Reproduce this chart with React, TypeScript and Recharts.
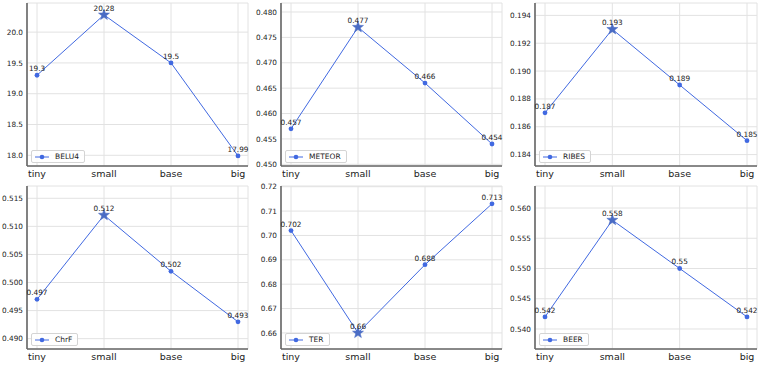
import React from "react";
import { LineChart, Line, XAxis, YAxis, CartesianGrid, LabelList, Legend } from "recharts";

const models = ["tiny", "small", "base", "big"];

const belu4 = [19.3, 20.28, 19.5, 17.99];
const meteor = [0.457, 0.477, 0.466, 0.454];
const ribes = [0.187, 0.193, 0.189, 0.185];
const chrf = [0.497, 0.512, 0.502, 0.493];
const ter = [0.702, 0.66, 0.688, 0.713];
const beer = [0.542, 0.558, 0.55, 0.542];

const belu4Ticks = [18.0, 18.5, 19.0, 19.5, 20.0];
const meteorTicks = [0.45, 0.455, 0.46, 0.465, 0.47, 0.475, 0.48];
const ribesTicks = [0.184, 0.186, 0.188, 0.19, 0.192, 0.194];
const chrfTicks = [0.49, 0.495, 0.5, 0.505, 0.51, 0.515];
const terTicks = [0.66, 0.67, 0.68, 0.69, 0.7, 0.71, 0.72];
const beerTicks = [0.54, 0.545, 0.55, 0.555, 0.56];

const FONT = "DejaVu Sans, sans-serif";
const BLUE = "#4169e1";
const STAR = "#4a6cc4";
const FRAME = "#666";

const Y_W = 40;
const M_TOP = 14;
const PLOT_H = 163;

type PanelProps = {
  name: string;
  values: number[];
  ticks: number[];
  domain: [number, number];
  decimals: number;
  lowerBetter?: boolean;
  plotLeft: number;
  plotTop: number;
  plotW: number;
};

function Star({ cx, cy }: { cx: number; cy: number }) {
  const pts: string[] = [];
  for (let i = 0; i < 10; i++) {
    const r = i % 2 === 0 ? 5.8 : 2.4;
    const a = -Math.PI / 2 + (i * Math.PI) / 5;
    pts.push(`${cx + r * Math.cos(a)},${cy + r * Math.sin(a)}`);
  }
  return <polygon points={pts.join(" ")} fill={STAR} stroke={STAR} strokeWidth={0.5} />;
}

function Panel({ name, values, ticks, domain, decimals, lowerBetter, plotLeft, plotTop, plotW }: PanelProps) {
  const data = models.map((m, i) => ({ model: m, value: values[i] }));
  const best = lowerBetter
    ? values.indexOf(Math.min(...values))
    : values.indexOf(Math.max(...values));
  const width = Y_W + plotW + 24;
  const height = M_TOP + PLOT_H + 20;

  const legendContent = () => (
    <div
      style={{
        display: "flex",
        alignItems: "center",
        border: "1px solid #d4d4d4",
        borderRadius: 2,
        background: "rgba(255,255,255,0.85)",
        padding: "0 5px 0 3px",
        height: 11,
        fontSize: 7.5,
        fontFamily: FONT,
        color: "#222",
        whiteSpace: "nowrap",
      }}
    >
      <svg width={14} height={6} style={{ overflow: "visible" }}>
        <line x1={0} y1={3} x2={14} y2={3} stroke={BLUE} strokeWidth={1} />
        <circle cx={7} cy={3} r={2.3} fill={BLUE} />
      </svg>
      <span style={{ marginLeft: 6 }}>{name}</span>
    </div>
  );

  return (
    <div style={{ position: "absolute", left: plotLeft - Y_W, top: plotTop - M_TOP }}>
      <LineChart
        width={width}
        height={height}
        data={data}
        margin={{ top: M_TOP, right: 24, bottom: 0, left: 0 }}
        style={{ fontFamily: FONT }}
      >
        <CartesianGrid stroke="#e2e2e2" strokeWidth={1} />
        <XAxis
          dataKey="model"
          type="category"
          scale="point"
          padding={{ left: 10, right: 10 }}
          height={20}
          tickSize={0}
          tickMargin={4}
          tickLine={false}
          axisLine={{ stroke: FRAME, strokeWidth: 1.6 }}
          tick={{ fontSize: 9.5, fill: "#222", fontFamily: FONT }}
          interval={0}
        />
        <XAxis
          xAxisId="top"
          orientation="top"
          dataKey="model"
          type="category"
          scale="point"
          padding={{ left: 10, right: 10 }}
          height={0}
          tick={false}
          tickLine={false}
          axisLine={{ stroke: FRAME, strokeWidth: 1.6 }}
        />
        <YAxis
          type="number"
          domain={domain}
          ticks={ticks}
          allowDataOverflow
          width={Y_W}
          tickSize={0}
          tickMargin={4}
          tickLine={false}
          axisLine={{ stroke: FRAME, strokeWidth: 1.6 }}
          tick={{ fontSize: 7.3, fill: "#222", fontFamily: FONT }}
          tickFormatter={(v: number) => v.toFixed(decimals)}
          interval={0}
        />
        <YAxis
          yAxisId="right"
          orientation="right"
          type="number"
          domain={domain}
          allowDataOverflow
          width={0}
          tick={false}
          tickLine={false}
          axisLine={{ stroke: FRAME, strokeWidth: 1.6 }}
        />
        <Legend
          layout="vertical"
          align="center"
          verticalAlign="middle"
          content={legendContent}
          wrapperStyle={{ left: Y_W + 4, top: M_TOP + PLOT_H - 3 - 13, width: "auto" }}
        />
        <Line
          type="linear"
          dataKey="value"
          name={name}
          stroke={BLUE}
          strokeWidth={1}
          isAnimationActive={false}
          dot={(p: any) =>
            p.index === best ? (
              <Star key={`s-${p.index}`} cx={p.cx} cy={p.cy} />
            ) : (
              <circle key={`c-${p.index}`} cx={p.cx} cy={p.cy} r={2.4} fill={BLUE} stroke="none" />
            )
          }
          activeDot={false}
        >
          <LabelList dataKey="value" position="top" offset={4} fontSize={7.3} fill="#222" fontFamily={FONT} />
        </Line>
      </LineChart>
    </div>
  );
}

export default function App() {
  return (
    <div
      style={{
        position: "absolute",
        left: 0,
        top: 0,
        width: 761,
        height: 365,
        background: "#fff",
        overflow: "hidden",
      }}
    >
      <Panel name="BELU4" values={belu4} ticks={belu4Ticks} domain={[17.826, 20.473]} decimals={1} plotLeft={27} plotTop={3} plotW={221} />
      <Panel name="METEOR" values={meteor} ticks={meteorTicks} domain={[0.44967, 0.48177]} decimals={3} plotLeft={281} plotTop={3} plotW={221} />
      <Panel name="RIBES" values={ribes} ticks={ribesTicks} domain={[0.18318, 0.19489]} decimals={3} plotLeft={535} plotTop={3} plotW={222} />
      <Panel name="ChrF" values={chrf} ticks={chrfTicks} domain={[0.48816, 0.51719]} decimals={3} plotLeft={27} plotTop={186} plotW={221} />
      <Panel name="TER" values={ter} ticks={terTicks} domain={[0.6534, 0.7203]} decimals={2} lowerBetter plotLeft={281} plotTop={186} plotW={221} />
      <Panel name="BEER" values={beer} ticks={beerTicks} domain={[0.53669, 0.56364]} decimals={3} plotLeft={535} plotTop={186} plotW={222} />
    </div>
  );
}
